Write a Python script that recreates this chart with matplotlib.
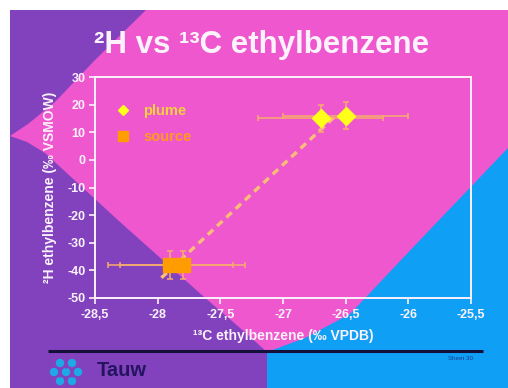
import numpy as np
import matplotlib
matplotlib.use("Agg")
import matplotlib.pyplot as plt
from matplotlib.patches import Polygon, Circle
from matplotlib.lines import Line2D
from matplotlib.ticker import FixedLocator, FuncFormatter

plt.rcParams['font.family'] = ['Liberation Sans', 'DejaVu Sans']

# --- data -------------------------------------------------------------
plume_c13 = [-26.7, -26.5]
plume_h2 = [15, 16]
plume_c13_err = [0.5, 0.5]
plume_h2_err = [5, 5]

source_c13 = [-27.9, -27.8]
source_h2 = [-38, -38]
source_c13_err = [0.5, 0.5]
source_h2_err = [5, 5]

series_labels = ["plume", "source"]
x_ticks = [-28.5, -28, -27.5, -27, -26.5, -26, -25.5]
y_ticks = [30, 20, 10, 0, -10, -20, -30, -40, -50]

title = "²H vs ¹³C ethylbenzene"
x_label = "¹³C ethylbenzene (‰ VPDB)"
y_label = "²H ethylbenzene (‰ VSMOW)"

# --- colours ----------------------------------------------------------
PINK = "#EE57CE"
PURPLE = "#8242BE"
BLUE = "#0FA0F5"
WHITE = "#FBF2FB"
ERR = "#F7AC6C"
TREND = "#FFBE78"

W, H = 508, 388
fig = plt.figure(figsize=(W / 100, H / 100), dpi=100)
fig.patch.set_facecolor("white")

# slide background drawn in pixel coordinates
bg = fig.add_axes([0, 0, 1, 1])
bg.set_xlim(0, W)
bg.set_ylim(H, 0)
bg.axis("off")
bg.add_patch(Polygon([(10, 10), (W, 10), (W, H), (10, H)], closed=True,
                     facecolor=PINK, edgecolor="none"))
# upper-left purple wedge
bg.add_patch(Polygon([(10, 10), (146, 10), (95, 60), (55, 102), (28, 124), (10, 136)],
                     closed=True, facecolor=PURPLE, edgecolor="none"))
# lower-left purple region
bg.add_patch(Polygon([(10, 136), (27, 142), (45, 153), (120, 222), (203, 296),
                      (240, 328), (267, 352), (267, H), (10, H)],
                     closed=True, facecolor=PURPLE, edgecolor="none"))
# lower-right blue region
bg.add_patch(Polygon([(W, 148), (420, 240), (350, 314), (305, 338), (267, 352),
                      (267, H), (W, H)],
                     closed=True, facecolor=BLUE, edgecolor="none"))

# footer
bg.plot([48, 483], [351, 351], color="#14103A", lw=2.2, solid_capstyle="butt")
bg.text(97, 371, "Tauw", fontsize=14.5, fontweight="bold", color="#24145E",
        ha="left", va="center")
bg.text(461, 358, "Sheet 30", fontsize=4.5, color="#1C3C8C", ha="center", va="center")
for cx, cy in [(60, 363), (72, 363), (54, 372), (66, 372), (78, 372), (60, 381), (72, 381)]:
    bg.add_patch(Circle((cx, cy), 4.2, facecolor="#1EA8E8", edgecolor="none"))
for cx, cy in [(66, 367), (60, 376), (72, 376)]:
    bg.add_patch(Circle((cx, cy), 1.6, facecolor=PURPLE, edgecolor="none"))

bg.text(262, 53, title, fontsize=22.5, fontweight="bold", color=WHITE,
        ha="center", va="baseline")

# --- chart ------------------------------------------------------------
left, right, top, bottom = 95, 471, 77, 298
ax = fig.add_axes([left / W, (H - bottom) / H, (right - left) / W, (bottom - top) / H])
ax.set_facecolor("none")
ax.set_xlim(-28.5, -25.5)
ax.set_ylim(-50, 30)
for s in ax.spines.values():
    s.set_color(WHITE)
    s.set_linewidth(1.4)

ax.xaxis.set_major_locator(FixedLocator(x_ticks))
ax.yaxis.set_major_locator(FixedLocator(y_ticks))
ax.xaxis.set_major_formatter(FuncFormatter(lambda v, p: f"{v:g}".replace(".", ",")))
ax.yaxis.set_major_formatter(FuncFormatter(lambda v, p: f"{v:g}"))
ax.tick_params(colors=WHITE, direction="out", length=4, width=1.2, labelsize=9)
for lbl in ax.get_xticklabels() + ax.get_yticklabels():
    lbl.set_fontweight("bold")
ax.tick_params(axis="x", pad=4)
ax.tick_params(axis="y", pad=3)

ax.set_xlabel(x_label, fontsize=10, fontweight="bold", color=WHITE, labelpad=6)
ax.set_ylabel(y_label, fontsize=10, fontweight="bold", color=WHITE, labelpad=7)

# linear trend through all points
all_x = np.array(plume_c13 + source_c13)
all_y = np.array(plume_h2 + source_h2)
slope, intercept = np.polyfit(all_x, all_y, 1)
tx = np.array([-27.97, -26.58])
ax.plot(tx, slope * tx + intercept, color=TREND, lw=2.4, ls=(0, (2.2, 1.6)), zorder=2)

ax.errorbar(plume_c13, plume_h2, xerr=plume_c13_err, yerr=plume_h2_err, fmt="none",
            ecolor=ERR, elinewidth=1.1, capsize=2.5, capthick=1.1, zorder=3)
ax.errorbar(source_c13, source_h2, xerr=source_c13_err, yerr=source_h2_err, fmt="none",
            ecolor=ERR, elinewidth=1.1, capsize=2.5, capthick=1.1, zorder=3)
ax.plot(plume_c13, plume_h2, ls="none", marker="D", ms=9, color="#FFFF1A",
        mec="#FFFF1A", zorder=4)
ax.plot(source_c13, source_h2, ls="none", marker="s", ms=10, color="#FF9C00",
        mec="#FF9C00", zorder=4)

handles = [Line2D([], [], ls="none", marker="D", ms=5.5, color="#FFFF1A"),
           Line2D([], [], ls="none", marker="s", ms=7, color="#FF9C00")]
leg = ax.legend(handles, series_labels, loc="upper left", bbox_to_anchor=(0.02, 0.905),
                frameon=False, fontsize=10.5, handletextpad=0.4, labelspacing=0.85,
                labelcolor=["#F4D23C", "#FF9A1E"], borderaxespad=0)
for t in leg.get_texts():
    t.set_fontweight("bold")

fig.savefig("out.png", dpi=100)
